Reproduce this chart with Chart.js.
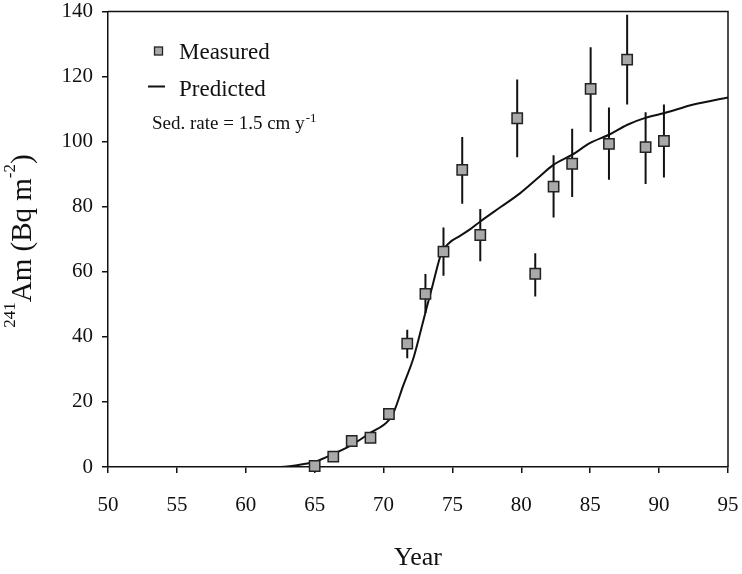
<!DOCTYPE html>
<html>
<head>
<meta charset="utf-8">
<script src="https://cdn.jsdelivr.net/npm/chart.js@4.4.1/dist/chart.umd.min.js"></script>
<style>
  html, body { margin: 0; padding: 0; background: #fff; }
  #wrap { width: 742px; height: 574px; position: relative; }
</style>
</head>
<body>
<div id="wrap"><canvas id="c" width="742" height="574"></canvas></div>
<script>
// measured 241Am inventory per core slice (year, Bq m-2), with error bar ends
const measYears  = [65.0, 66.35, 67.69, 69.05, 70.39, 71.72, 73.04, 74.35, 75.71, 77.02,
                    79.70, 81.01, 82.34, 83.69, 85.03, 86.36, 87.68, 89.02, 90.35];
const measValues = [0.3, 3.2, 8.0, 9.0, 16.3, 37.9, 53.2, 66.2, 91.3, 71.3,
                    107.2, 59.4, 86.2, 93.2, 116.2, 99.3, 125.2, 98.3, 100.2];
const errHigh    = [0.3, 3.2, 8.0, 9.0, 17.5, 42.2, 59.3, 73.6, 101.4, 79.3,
                    119.1, 65.7, 95.8, 104.0, 129.0, 110.5, 139.0, 109.0, 111.4];
const errLow     = [0.3, 3.2, 8.0, 9.0, 15.0, 33.4, 47.3, 58.8, 80.9, 63.2,
                    95.2, 52.4, 76.7, 83.0, 103.0, 88.3, 111.4, 87.0, 89.0];

// model curve
const predYears  = [50, 62.2, 63.6, 65.0, 66.35, 67.7, 69.0, 70.4, 70.8, 71.4, 72.2, 72.9,
                    73.6, 74.2, 74.8, 75.5, 76.3, 77.0, 78.5, 79.9, 81.2, 82.3, 83.7, 85.0,
                    86.4, 87.7, 89.0, 90.4, 92.5, 95];
const predValues = [0, 0, 0.5, 1.6, 4.0, 6.8, 10.4, 14.5, 17.5, 24.7, 33.9, 45.2,
                    56.5, 65.7, 69.0, 70.9, 73.1, 75.4, 79.9, 84.1, 88.8, 92.8, 96.0, 99.6,
                    102.2, 105.2, 107.3, 108.8, 111.4, 113.6];

const xTicks = [50, 55, 60, 65, 70, 75, 80, 85, 90, 95];
const yTicks = [0, 20, 40, 60, 80, 100, 120, 140];

const SERIF = "'Liberation Serif', 'Times New Roman', serif";
const INK = '#111';
const BOX_FILL = '#a9a9a9';

const measured = measYears.map((x, i) => ({ x: x, y: measValues[i] }));
const predicted = predYears.map((x, i) => ({ x: x, y: predValues[i] }));
// error bars as one broken line: low, high, gap
const errBars = [];
measYears.forEach((x, i) => {
  errBars.push({ x: x, y: errLow[i] }, { x: x, y: errHigh[i] }, { x: x, y: null });
});

// frame, legend and y title with superscripts
const extras = {
  id: 'extras',
  afterDraw(chart) {
    const { ctx, chartArea: a } = chart;
    ctx.save();
    ctx.strokeStyle = INK;
    ctx.lineWidth = 1.5;
    ctx.beginPath();
    ctx.moveTo(a.left, a.top);
    ctx.lineTo(a.right, a.top);
    ctx.lineTo(a.right, a.bottom);
    ctx.stroke();

    // legend
    ctx.fillStyle = BOX_FILL;
    ctx.fillRect(154.5, 47, 8, 8);
    ctx.strokeStyle = '#222';
    ctx.lineWidth = 1.3;
    ctx.strokeRect(154.5, 47, 8, 8);
    ctx.strokeStyle = INK;
    ctx.lineWidth = 2;
    ctx.beginPath();
    ctx.moveTo(148, 86.5);
    ctx.lineTo(165, 86.5);
    ctx.stroke();

    ctx.fillStyle = INK;
    ctx.textBaseline = 'alphabetic';
    ctx.textAlign = 'left';
    ctx.font = '23px ' + SERIF;
    ctx.fillText('Measured', 179, 59);
    ctx.fillText('Predicted', 179, 96);
    ctx.font = '19px ' + SERIF;
    ctx.fillText('Sed. rate = 1.5 cm y', 152, 129);
    const w = ctx.measureText('Sed. rate = 1.5 cm y').width;
    ctx.font = '13px ' + SERIF;
    ctx.fillText('-1', 152 + w + 1, 122);

    // y axis title
    ctx.translate(31, 241);
    ctx.rotate(-Math.PI / 2);
    const parts = [
      ['241', 17, -16], ['Am (Bq m', 29, 0], ['-2', 17, -16], [')', 29, 0]
    ];
    let total = 0;
    parts.forEach(p => { ctx.font = p[1] + 'px ' + SERIF; total += ctx.measureText(p[0]).width; });
    let x = -total / 2;
    parts.forEach(p => {
      ctx.font = p[1] + 'px ' + SERIF;
      ctx.fillText(p[0], x, p[2]);
      x += ctx.measureText(p[0]).width;
    });
    ctx.restore();
  }
};

new Chart(document.getElementById('c'), {
  type: 'line',
  data: {
    datasets: [
      {
        label: 'Measured',
        data: measured,
        showLine: false,
        pointStyle: 'rect',
        pointRadius: 7.3,
        pointBackgroundColor: BOX_FILL,
        pointBorderColor: '#222',
        pointBorderWidth: 1.5,
        clip: false,
        order: 0
      },
      {
        label: 'err',
        data: errBars,
        borderColor: INK,
        borderWidth: 2,
        pointRadius: 0,
        spanGaps: false,
        order: 1
      },
      {
        label: 'Predicted',
        data: predicted,
        borderColor: INK,
        borderWidth: 2,
        pointRadius: 0,
        cubicInterpolationMode: 'monotone',
        order: 2
      }
    ]
  },
  plugins: [extras],
  options: {
    responsive: false,
    animation: false,
    events: [],
    layout: { padding: { top: 11.5, right: 14, left: 0, bottom: 0 } },
    plugins: { legend: { display: false }, tooltip: { enabled: false } },
    scales: {
      x: {
        type: 'linear',
        min: 50,
        max: 95,
        afterBuildTicks(scale) { scale.ticks = xTicks.map(v => ({ value: v })); },
        afterFit(scale) {
          scale.height = 107;
          scale.paddingLeft = 0;
          scale.paddingRight = 0;
        },
        grid: { drawOnChartArea: false, drawTicks: true, tickLength: 6, color: INK, lineWidth: 1.5 },
        border: { display: true, color: INK, width: 1.5 },
        ticks: { color: INK, font: { family: SERIF, size: 21 }, padding: 20, maxRotation: 0 },
        title: {
          display: true,
          text: 'Year',
          color: INK,
          font: { family: SERIF, size: 26 },
          padding: { top: 0, bottom: 0 }
        }
      },
      y: {
        min: 0,
        max: 140,
        afterBuildTicks(scale) { scale.ticks = yTicks.map(v => ({ value: v })); },
        afterFit(scale) {
          scale.width = 108;
          scale.paddingTop = 0;
          scale.paddingBottom = 0;
        },
        grid: { drawOnChartArea: false, drawTicks: true, tickLength: 6, color: INK, lineWidth: 1.5 },
        border: { display: true, color: INK, width: 1.5 },
        ticks: { color: INK, font: { family: SERIF, size: 21 }, padding: 9 }
      }
    }
  }
});
</script>
</body>
</html>
